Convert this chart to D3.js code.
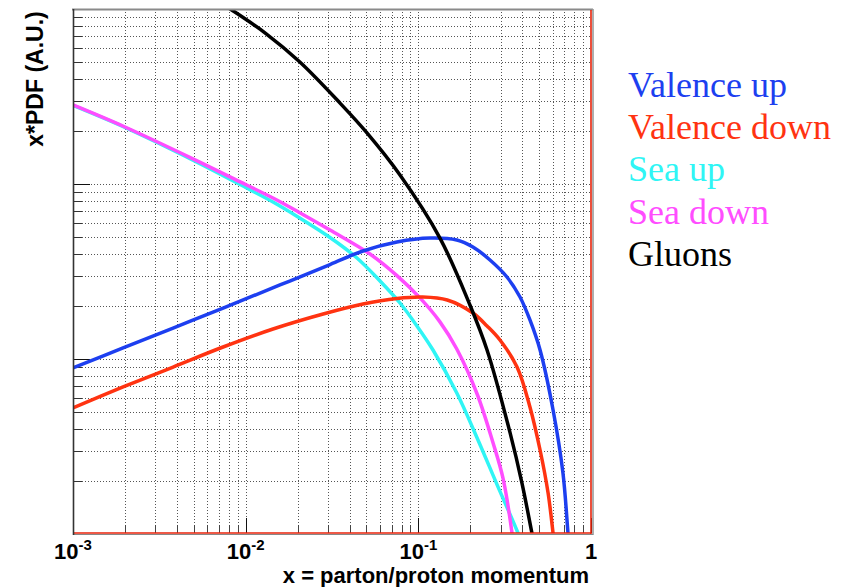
<!DOCTYPE html>
<html>
<head>
<meta charset="utf-8">
<script src="https://cdn.jsdelivr.net/npm/d3@7"></script>
<style>
  html, body { margin: 0; padding: 0; background: #fff; }
  svg { display: block; }
</style>
</head>
<body>
<svg id="chart" width="852" height="587"></svg>
<script>
// Parton distributions x*f(x), arbitrary units, log-log
const valenceUpX   = [0.001, 0.00195, 0.0038, 0.0074, 0.0158, 0.0308, 0.0478, 0.0752, 0.117, 0.167, 0.207, 0.26, 0.326, 0.388, 0.443, 0.507, 0.603, 0.688, 0.736, 0.766];
const valenceUpY   = [0.0889, 0.1156, 0.1503, 0.1956, 0.2648, 0.3467, 0.4142, 0.4663, 0.491, 0.4786, 0.4365, 0.3679, 0.2941, 0.2261, 0.1671, 0.1126, 0.0511, 0.0223, 0.0101, 0.0062];

const valenceDownX = [0.001, 0.00195, 0.0038, 0.0074, 0.0144, 0.0281, 0.0478, 0.0752, 0.106, 0.147, 0.207, 0.25, 0.297, 0.373, 0.443, 0.507, 0.564, 0.603, 0.627];
const valenceDownY = [0.0525, 0.0692, 0.0900, 0.1171, 0.1484, 0.1808, 0.2062, 0.2217, 0.2261, 0.2174, 0.1832, 0.1544, 0.1284, 0.0900, 0.0532, 0.0302, 0.0172, 0.0101, 0.0071];

const seaUpX       = [0.001, 0.002, 0.00502, 0.01, 0.0144, 0.0201, 0.0308, 0.0441, 0.06, 0.0783, 0.0982, 0.1216, 0.167, 0.219, 0.286, 0.378, 0.404];
const seaUpY       = [2.81, 2.103, 1.359, 0.955, 0.789, 0.648, 0.4946, 0.3777, 0.2791, 0.2089, 0.1544, 0.1126, 0.0639, 0.0354, 0.0191, 0.0101, 0.0084];

const seaDownX     = [0.001, 0.002, 0.00502, 0.01, 0.0144, 0.0201, 0.0308, 0.0525, 0.0752, 0.1022, 0.1334, 0.167, 0.219, 0.271, 0.309, 0.349, 0.363];
const seaDownY     = [2.83, 2.117, 1.384, 0.993, 0.832, 0.695, 0.546, 0.398, 0.2996, 0.2234, 0.163, 0.114, 0.0631, 0.0331, 0.0209, 0.0101, 0.0071];

const gluonX       = [0.0071, 0.0083, 0.0131, 0.0206, 0.0352, 0.0504, 0.0783, 0.1334, 0.199, 0.25, 0.34, 0.398, 0.455, 0.507];
const gluonY       = [10.88, 9.87, 7.24, 4.98, 2.90, 1.96, 1.126, 0.491, 0.2035, 0.1126, 0.0378, 0.0196, 0.0101, 0.0058];

const seriesNames  = ["Valence up", "Valence down", "Sea up", "Sea down", "Gluons"];
const seriesColors = ["#1d3ff0", "#ff3311", "#2ff5f5", "#ff4dff", "#000000"];
const seriesX      = [valenceUpX, valenceDownX, seaUpX, seaDownX, gluonX];
const seriesY      = [valenceUpY, valenceDownY, seaUpY, seaDownY, gluonY];

const xTickLabels  = [{v: 0.001, base: "10", exp: "-3"}, {v: 0.01, base: "10", exp: "-2"}, {v: 0.1, base: "10", exp: "-1"}, {v: 1, base: "1", exp: ""}];
const xTitle = "x = parton/proton momentum";
const yTitle = "x*PDF (A.U.)";

const svg = d3.select("#chart");
const L = 73, R = 591, T = 9, B = 534;

const x = d3.scaleLog().domain([1e-3, 1]).range([L, R]);
const y = d3.scaleLog().domain([1e-2, 10]).range([B, T]);

function logTicks(lo, hi) {
  const out = [];
  for (let e = Math.round(Math.log10(lo)); e < Math.round(Math.log10(hi)); e++) {
    for (let k = 1; k <= 9; k++) out.push({v: k * Math.pow(10, e), major: k === 1});
  }
  out.push({v: hi, major: true});
  return out;
}
const xt = logTicks(1e-3, 1);
const yt = logTicks(1e-2, 10);

// dotted grid
const grid = svg.append("g").attr("shape-rendering", "crispEdges");
grid.selectAll("line.vx").data(xt.filter(d => d.v > 1e-3 && d.v < 1)).join("line")
  .attr("x1", d => Math.round(x(d.v)) + 0.5).attr("x2", d => Math.round(x(d.v)) + 0.5)
  .attr("y1", T).attr("y2", B - 1)
  .attr("stroke", "#555").attr("stroke-width", 1).attr("stroke-dasharray", "1,2");
grid.selectAll("line.hy").data(yt.filter(d => d.v > 1e-2 && d.v < 10)).join("line")
  .attr("y1", d => Math.round(y(d.v)) + 0.5).attr("y2", d => Math.round(y(d.v)) + 0.5)
  .attr("x1", L).attr("x2", R)
  .attr("stroke", "#555").attr("stroke-width", 1).attr("stroke-dasharray", "1,2");

// ticks
const ticks = svg.append("g").attr("shape-rendering", "crispEdges");
ticks.selectAll("line.ty").data(yt).join("line")
  .attr("x1", L).attr("x2", d => L + (d.major ? 17 : 9))
  .attr("y1", d => Math.round(y(d.v)) + 0.5).attr("y2", d => Math.round(y(d.v)) + 0.5)
  .attr("stroke", d => d.major ? "#111" : "#333").attr("stroke-width", 1.5);
ticks.selectAll("line.tx").data(xt).join("line")
  .attr("x1", d => Math.round(x(d.v)) + 0.5).attr("x2", d => Math.round(x(d.v)) + 0.5)
  .attr("y1", 533).attr("y2", d => 533 - (d.major ? 15 : 8))
  .attr("stroke", d => d.major ? "#111" : "#444").attr("stroke-width", 1.5);

// curves
svg.append("defs").append("clipPath").attr("id", "plotClip")
  .append("rect").attr("x", L).attr("y", T).attr("width", R - L).attr("height", 533 - T);

const line = d3.line().x(d => x(d[0])).y(d => y(d[1])).curve(d3.curveCatmullRom.alpha(0.5));
const curves = svg.append("g").attr("clip-path", "url(#plotClip)");
// sea up first so sea down sits over it
const drawOrder = [2, 3, 0, 1, 4];
drawOrder.forEach(i => {
  const pts = seriesX[i].map((v, j) => [v, seriesY[i][j]]);
  curves.append("path").attr("d", line(pts))
    .attr("fill", "none").attr("stroke", seriesColors[i]).attr("stroke-width", 3.5)
    .attr("stroke-linejoin", "round");
});

// frame
const frame = svg.append("g");
frame.append("line").attr("x1", L - 1).attr("x2", R + 2).attr("y1", 9.5).attr("y2", 9.5)
  .attr("stroke", "#8a8a8a").attr("stroke-width", 2.2);
frame.append("line").attr("x1", R + 2).attr("x2", R + 2).attr("y1", 9).attr("y2", 535)
  .attr("stroke", "#9a9a9a").attr("stroke-width", 1.6);
frame.append("line").attr("x1", R).attr("x2", R).attr("y1", 10).attr("y2", 534)
  .attr("stroke", "#e8220a").attr("stroke-width", 1.6);
frame.append("line").attr("x1", L).attr("x2", R + 2).attr("y1", 534.5).attr("y2", 534.5)
  .attr("stroke", "#888").attr("stroke-width", 1.2);
frame.append("line").attr("x1", L).attr("x2", R).attr("y1", 533).attr("y2", 533)
  .attr("stroke", "#e8220a").attr("stroke-width", 1.6);
frame.append("line").attr("x1", L + 0.5).attr("x2", L + 0.5).attr("y1", 9).attr("y2", 535)
  .attr("stroke", "#333").attr("stroke-width", 1.6);

// tick labels
const lab = svg.append("g").attr("font-family", "'Liberation Sans', Arial, sans-serif")
  .attr("font-weight", "bold").attr("fill", "#000");
xTickLabels.forEach(t => {
  const tx = lab.append("text").attr("x", x(t.v)).attr("y", 558.5)
    .attr("text-anchor", "middle").attr("font-size", 22);
  tx.append("tspan").text(t.base);
  if (t.exp) tx.append("tspan").attr("dy", -9).attr("font-size", 15).text(t.exp);
});

// axis titles
lab.append("text").attr("x", 589).attr("y", 583).attr("text-anchor", "end")
  .attr("font-size", 22).text(xTitle);
lab.append("text").attr("transform", "translate(43,79) rotate(-90)")
  .attr("text-anchor", "middle").attr("font-size", 23).text(yTitle);

// legend
const legend = svg.append("g").attr("font-family", "'Liberation Serif', 'Times New Roman', serif")
  .attr("font-size", 36);
seriesNames.forEach((n, i) => {
  legend.append("text").attr("x", 628).attr("y", 97 + i * 42.2)
    .attr("fill", seriesColors[i]).text(n);
});
</script>
</body>
</html>
